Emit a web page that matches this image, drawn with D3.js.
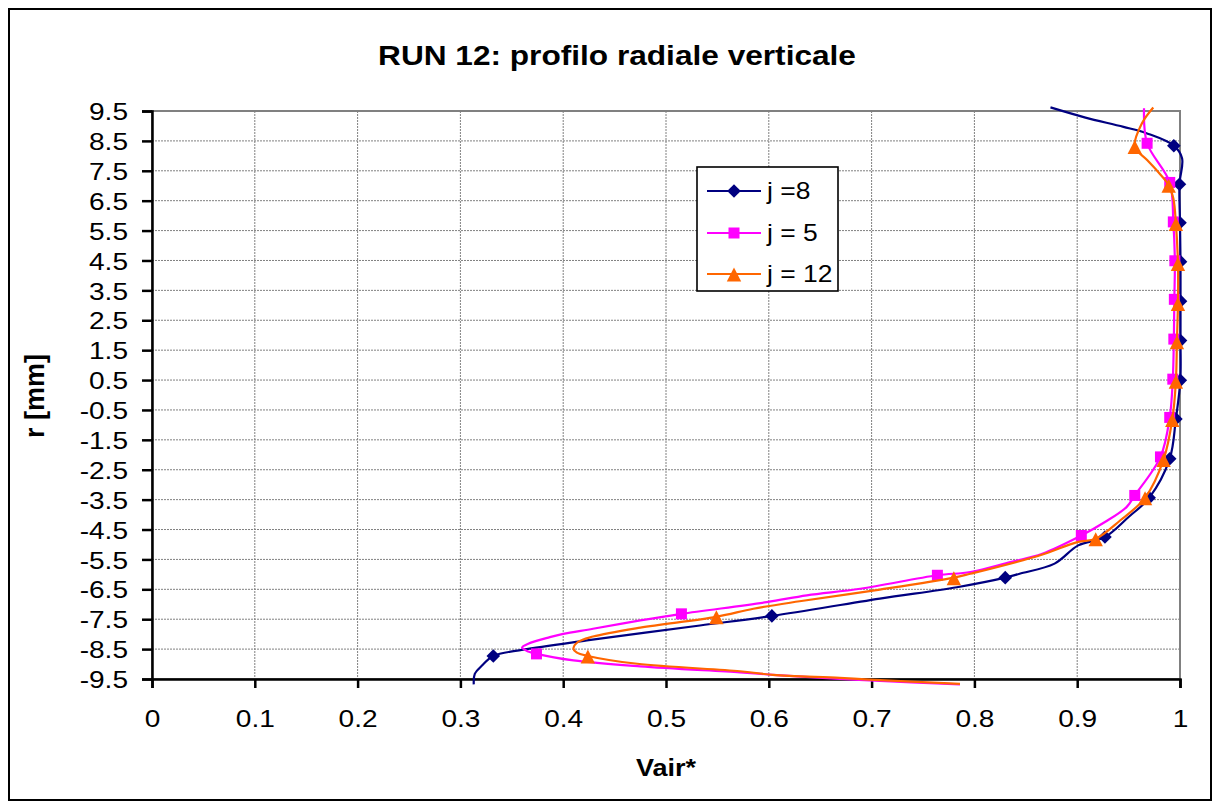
<!DOCTYPE html>
<html><head><meta charset="utf-8">
<script src="https://cdn.jsdelivr.net/npm/d3@7"></script>
<style>
body{margin:0;background:#fff}
svg{display:block}
text{font-family:"Liberation Sans",Arial,sans-serif;fill:#000}
</style>
</head><body>
<svg id="chart" width="1219" height="808"></svg>
<script>
// ---------- data ----------
const chartTitle = "RUN 12: profilo radiale verticale";
const xTitle = "Vair*";
const yTitle = "r [mm]";
const xTickValues = [0,0.1,0.2,0.3,0.4,0.5,0.6,0.7,0.8,0.9,1];
const yTickValues = [9.5,8.5,7.5,6.5,5.5,4.5,3.5,2.5,1.5,0.5,-0.5,-1.5,-2.5,-3.5,-4.5,-5.5,-6.5,-7.5,-8.5,-9.5];
const seriesNames = ["j =8","j = 5","j = 12"];
const seriesColors = ["#000080","#FF00FF","#FF6600"];
const seriesSymbols = ["diamond","square","triangle"];

// [Vair*, r] along each profile
const j8Line = [[0.874,9.62],[0.908,9.28],[0.945,8.97],[0.968,8.75],[0.994,8.34],[1.002,7.92],[0.9995,7.05],[1.0,5.76],[1.0005,4.46],[1.0005,3.14],[1.0005,1.82],[1.0003,0.49],[0.996,-0.80],[0.990,-2.13],[0.970,-3.44],[0.950,-4.08],[0.927,-4.75],[0.901,-5.03],[0.878,-5.64],[0.844,-5.98],[0.830,-6.11],[0.783,-6.43],[0.708,-6.81],[0.603,-7.39],[0.533,-7.71],[0.423,-8.21],[0.361,-8.52],[0.332,-8.73],[0.321,-9.05],[0.314,-9.33],[0.313,-9.68]];
const j8Marks = [[0.994,8.34],[0.9995,7.05],[1.0,5.76],[1.0005,4.46],[1.0005,3.14],[1.0005,1.82],[1.0003,0.49],[0.996,-0.80],[0.990,-2.13],[0.970,-3.44],[0.927,-4.75],[0.830,-6.11],[0.603,-7.39],[0.332,-8.73]];

const j5Line = [[0.965,9.59],[0.968,8.42],[0.990,7.11],[0.9935,5.79],[0.995,4.49],[0.9945,3.20],[0.994,1.87],[0.993,0.53],[0.990,-0.75],[0.981,-2.07],[0.956,-3.36],[0.948,-3.75],[0.927,-4.25],[0.904,-4.70],[0.866,-5.31],[0.835,-5.59],[0.796,-5.92],[0.764,-6.03],[0.689,-6.48],[0.637,-6.70],[0.598,-6.93],[0.515,-7.32],[0.475,-7.54],[0.429,-7.82],[0.400,-7.99],[0.387,-8.10],[0.366,-8.32],[0.360,-8.45],[0.366,-8.58],[0.374,-8.66],[0.410,-8.88],[0.475,-9.08],[0.572,-9.28],[0.604,-9.36],[0.669,-9.50],[0.698,-9.55],[0.786,-9.68]];
const j5Marks = [[0.968,8.42],[0.990,7.11],[0.9935,5.79],[0.995,4.49],[0.9945,3.20],[0.994,1.87],[0.993,0.53],[0.990,-0.75],[0.981,-2.07],[0.956,-3.36],[0.904,-4.70],[0.764,-6.03],[0.515,-7.32],[0.374,-8.66]];

const j12Line = [[0.974,9.62],[0.963,9.09],[0.956,8.31],[0.968,7.86],[0.979,7.45],[0.989,7.02],[0.9935,6.58],[0.996,5.74],[0.998,4.40],[0.998,3.06],[0.997,1.78],[0.996,0.46],[0.9925,-0.82],[0.984,-2.16],[0.966,-3.44],[0.942,-4.19],[0.918,-4.81],[0.900,-4.92],[0.864,-5.36],[0.796,-5.98],[0.780,-6.11],[0.708,-6.51],[0.630,-6.90],[0.585,-7.15],[0.549,-7.42],[0.475,-7.78],[0.429,-8.08],[0.414,-8.27],[0.410,-8.49],[0.413,-8.61],[0.424,-8.73],[0.472,-8.99],[0.572,-9.24],[0.604,-9.36],[0.669,-9.46],[0.698,-9.52],[0.786,-9.66]];
const j12Marks = [[0.956,8.31],[0.989,7.02],[0.996,5.74],[0.998,4.40],[0.998,3.06],[0.997,1.78],[0.996,0.46],[0.9925,-0.82],[0.984,-2.16],[0.966,-3.44],[0.918,-4.81],[0.780,-6.11],[0.549,-7.42],[0.424,-8.73]];

const seriesLines = [j8Line, j5Line, j12Line];
const seriesMarks = [j8Marks, j5Marks, j12Marks];

// ---------- layout ----------
const W = 1219, H = 808;
const plot = {left:152, right:1180, top:111, bottom:679};

const svg = d3.select("#chart");
const x = d3.scaleLinear().domain([0,1]).range([plot.left, plot.right]);
const y = d3.scaleLinear().domain([-9.5,9.5]).range([plot.bottom, plot.top]);

svg.append("rect").attr("width",W).attr("height",H).attr("fill","#fff");
// outer frame
svg.append("rect").attr("x",9).attr("y",9).attr("width",1202).attr("height",791)
  .attr("fill","none").attr("stroke","#000").attr("stroke-width",2);

// grid
const grid = svg.append("g");
grid.selectAll("line.h").data(yTickValues.slice(1,-1)).join("line")
  .attr("x1",plot.left).attr("x2",plot.right)
  .attr("y1",d=>y(d)).attr("y2",d=>y(d))
  .attr("stroke","#808080").attr("stroke-width",1).attr("stroke-dasharray","2,1");
grid.selectAll("line.v").data(xTickValues.slice(1,-1)).join("line")
  .attr("y1",plot.top).attr("y2",plot.bottom)
  .attr("x1",d=>x(d)).attr("x2",d=>x(d))
  .attr("stroke","#808080").attr("stroke-width",1).attr("stroke-dasharray","2,1");

// plot-area border (top and right gray)
svg.append("rect").attr("x",plot.left).attr("y",plot.top)
  .attr("width",plot.right-plot.left).attr("height",plot.bottom-plot.top)
  .attr("fill","none").attr("stroke","#808080").attr("stroke-width",2);

// axes
const TS = 1.17; // horizontal stretch of tick labels
const yAxis = d3.axisLeft(y).tickValues(yTickValues).tickSize(10).tickPadding(14)
  .tickFormat(d=>String(d));
const gy = svg.append("g").attr("transform",`translate(${plot.left},0)`).call(yAxis);
const xAxis = d3.axisBottom(x).tickValues(xTickValues).tickSize(9).tickPadding(22)
  .tickFormat(d=>String(d));
const gx = svg.append("g").attr("transform",`translate(0,${plot.bottom})`).call(xAxis);

[gy,gx].forEach(g=>{
  g.select(".domain").attr("stroke","#000").attr("stroke-width",2.5);
  g.selectAll(".tick line").attr("stroke","#000").attr("stroke-width",2.5);
  g.selectAll(".tick text").attr("font-size",24).attr("fill","#000")
    .attr("font-family","'Liberation Sans',Arial,sans-serif");
});
gy.selectAll(".tick text").attr("x",-24/TS).attr("dy","0.36em")
  .attr("transform",`scale(${TS},1)`);
gx.selectAll(".tick text").attr("transform",`scale(${TS},1)`).attr("dy","0.72em");

// series
const line = d3.line().x(d=>x(d[0])).y(d=>y(d[1])).curve(d3.curveCatmullRom.alpha(0.5));
function symbolPath(type){
  if(type==="diamond") return "M0,-6.8L6.8,0L0,6.8L-6.8,0Z";
  if(type==="square") return "M-5.5,-5.5H5.5V5.5H-5.5Z";
  return "M0,-6.5L7.2,7.5L-7.2,7.5Z";
}
seriesLines.forEach((pts,i)=>{
  const g = svg.append("g");
  g.append("path").attr("d",line(pts)).attr("fill","none")
    .attr("stroke",seriesColors[i]).attr("stroke-width",2.2).attr("stroke-linejoin","round");
  g.selectAll("path.m").data(seriesMarks[i]).join("path")
    .attr("d",symbolPath(seriesSymbols[i]))
    .attr("transform",d=>`translate(${x(d[0])},${y(d[1])})`)
    .attr("fill",seriesColors[i]);
});

// legend
const LS = 1.15;
const leg = svg.append("g");
leg.append("rect").attr("x",697).attr("y",167).attr("width",141).attr("height",124)
  .attr("fill","#fff").attr("stroke","#000").attr("stroke-width",1.6);
const legY = [191,233,274];
seriesNames.forEach((n,i)=>{
  leg.append("line").attr("x1",707).attr("x2",761).attr("y1",legY[i]).attr("y2",legY[i])
    .attr("stroke",seriesColors[i]).attr("stroke-width",2.2);
  leg.append("path").attr("d",symbolPath(seriesSymbols[i]))
    .attr("transform",`translate(734,${legY[i]})`).attr("fill",seriesColors[i]);
  leg.append("text").attr("transform",`translate(767,${legY[i]+8}) scale(${LS},1)`)
    .attr("font-size",23).text(n);
});

// titles
svg.append("text").attr("transform",`translate(617,65) scale(1.15,1)`)
  .attr("text-anchor","middle").attr("font-size",27.5).attr("font-weight","bold").text(chartTitle);
svg.append("text").attr("transform",`translate(666,776) scale(1.15,1)`)
  .attr("text-anchor","middle").attr("font-size",23.5).attr("font-weight","bold").text(xTitle);
svg.append("text").attr("transform",`translate(44,396) rotate(-90)`)
  .attr("text-anchor","middle").attr("font-size",27).attr("font-weight","bold").text(yTitle);
</script>
</body></html>
